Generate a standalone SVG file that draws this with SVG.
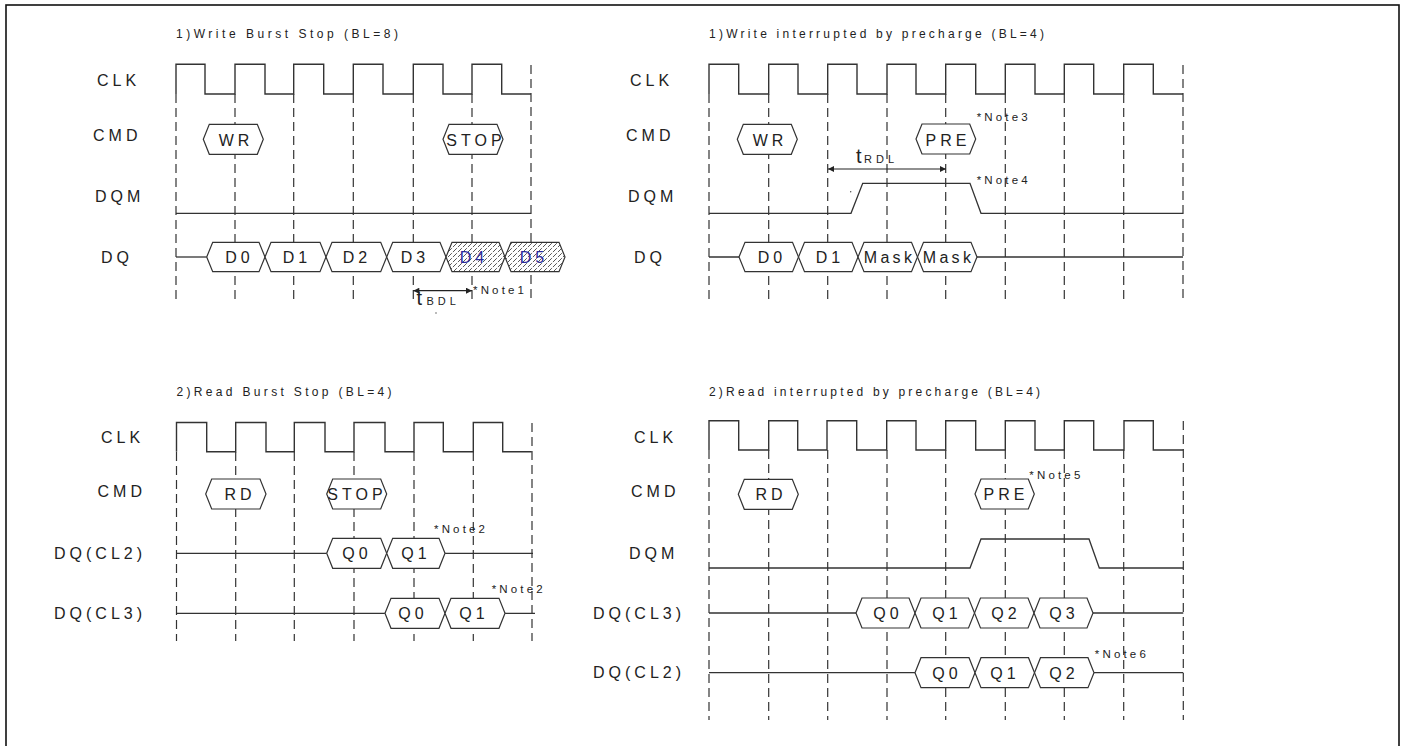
<svg xmlns="http://www.w3.org/2000/svg" width="1406" height="746" viewBox="0 0 1406 746">
<defs>
<style>
.frame{fill:none;stroke:#111;stroke-width:1.6}
.clk{fill:none;stroke:#333;stroke-width:1.4}
.sig{fill:none;stroke:#333;stroke-width:1.3}
.dash{fill:none;stroke:#333;stroke-width:1.2;stroke-dasharray:9 5}
.hex{fill:#fff;stroke:#333;stroke-width:1.2}
.hatch{fill:url(#hatch);stroke:#333;stroke-width:1.2}
.lbl{font-family:"Liberation Sans",Arial,sans-serif;font-size:16px;letter-spacing:4px;fill:#222}
.cell{font-family:"Liberation Sans",Arial,sans-serif;font-size:16px;letter-spacing:4px;fill:#222;text-anchor:middle}
.blue{fill:#2a2a9c}
.title{font-family:"Liberation Sans",Arial,sans-serif;font-size:12px;fill:#222}
.note{font-family:"Liberation Sans",Arial,sans-serif;font-size:11.5px;fill:#222}
.tbig{font-family:"Liberation Sans",Arial,sans-serif;font-size:20px;fill:#222}
.tsub{font-family:"Liberation Sans",Arial,sans-serif;font-size:11px;letter-spacing:4px;fill:#222}
.arr{fill:none;stroke:#222;stroke-width:1.2;marker-start:url(#ah);marker-end:url(#ah)}
</style>
<pattern id="hatch" patternUnits="userSpaceOnUse" width="5" height="5">
<rect width="5" height="5" fill="#fff"/>
<path d="M-1,6 L6,-1" stroke="#444" stroke-width="0.9" stroke-dasharray="4 1.5"/>
</pattern>
<marker id="ah" viewBox="0 0 10 10" refX="10" refY="5" markerWidth="7" markerHeight="6" orient="auto-start-reverse" markerUnits="userSpaceOnUse">
<path d="M0,0 L10,5 L0,10 z" fill="#222"/>
</marker>
</defs>
<rect width="1406" height="746" fill="#fff"/>
<rect class="frame" x="6" y="5" width="1393" height="750"/>

<!-- ========== Panel 1: Write Burst Stop ========== -->
<g id="panel-write-burst-stop">
<text class="title" x="176" y="38" textLength="222" lengthAdjust="spacing">1)Write Burst Stop (BL=8)</text>
<g id="wbs-labels">
<text class="lbl" x="97" y="86">CLK</text>
<text class="lbl" x="93" y="140.5">CMD</text>
<text class="lbl" x="95" y="202">DQM</text>
<text class="lbl" x="101" y="263">DQ</text>
</g>
<g id="wbs-guides">
<path class="dash" d="M176,94V303 M235,94V303 M293.7,94V303 M353.3,94V303 M413.3,94V303 M472,94V303 M531,65V303"/>
</g>
<path id="wbs-clk" class="clk" d="M176,94 V64.3 H205 V94 H235 V64.3 H265 V94 H293.7 V64.3 H323.7 V94 H353.3 V64.3 H383 V94 H413.3 V64.3 H443 V94 H472 V64.3 H501.7 V94 H531"/>
<g id="wbs-cmd-wr"><polygon class="hex" points="203.3,139.3 209.3,124.3 257.3,124.3 263.3,139.3 257.3,154.3 209.3,154.3"/><text class="cell" x="236" y="146">WR</text></g>
<g id="wbs-cmd-stop"><polygon class="hex" points="443,139.3 449,124.3 497,124.3 503,139.3 497,154.3 449,154.3"/><text class="cell" x="476" y="146">STOP</text></g>
<path id="wbs-dqm" class="sig" d="M176,213.3 H531"/>
<path id="wbs-dq-line" class="sig" d="M176,257 H206.7"/>
<g id="wbs-d0"><polygon class="hex" points="206.7,257 212.7,242.3 259,242.3 265,257 259,271.7 212.7,271.7"/><text class="cell" x="239.5" y="263.3">D0</text></g>
<g id="wbs-d1"><polygon class="hex" points="265,257 271,242.3 320,242.3 326,257 320,271.7 271,271.7"/><text class="cell" x="297" y="263.3">D1</text></g>
<g id="wbs-d2"><polygon class="hex" points="326,257 332,242.3 380.7,242.3 386.7,257 380.7,271.7 332,271.7"/><text class="cell" x="357" y="263.3">D2</text></g>
<g id="wbs-d3"><polygon class="hex" points="386.7,257 392.7,242.3 440,242.3 446,257 440,271.7 392.7,271.7"/><text class="cell" x="415" y="263.3">D3</text></g>
<g id="wbs-d4"><polygon class="hatch" points="446,257 452,242.3 499,242.3 505,257 499,271.7 452,271.7"/><text class="cell blue" x="474" y="263.3">D4</text></g>
<g id="wbs-d5"><polygon class="hatch" points="505,257 511,242.3 559,242.3 565,257 559,271.7 511,271.7"/><text class="cell blue" x="534" y="263.3">D5</text></g>
<g id="wbs-tbdl">
<text class="tbig" x="416.5" y="305">t</text><text class="tsub" x="426.5" y="304.5">BDL</text>
<circle cx="436" cy="313" r="0.7" fill="#444"/>
</g>
<text id="wbs-note1" class="note" x="473" y="294.3" textLength="51" lengthAdjust="spacing">*Note1</text>
</g>

<!-- ========== Panel 2: Write interrupted by precharge ========== -->
<g id="panel-write-precharge">
<text class="title" x="709" y="38" textLength="335" lengthAdjust="spacing">1)Write interrupted by precharge (BL=4)</text>
<g id="wip-labels">
<text class="lbl" x="630" y="86">CLK</text>
<text class="lbl" x="626" y="140.5">CMD</text>
<text class="lbl" x="628" y="202">DQM</text>
<text class="lbl" x="634" y="263">DQ</text>
</g>
<g id="wip-guides">
<path class="dash" d="M709,94V303 M768.7,94V303 M827.7,94V303 M887,94V303 M945.7,94V303 M1005.3,94V303 M1064.3,94V303 M1123.7,94V303 M1183,65V303"/>
</g>
<path id="wip-clk" class="clk" d="M709,94 V64.3 H738.7 V94 H768.7 V64.3 H798 V94 H827.7 V64.3 H857 V94 H887 V64.3 H916 V94 H945.7 V64.3 H975.7 V94 H1005.3 V64.3 H1035 V94 H1064.3 V64.3 H1093.7 V94 H1123.7 V64.3 H1153.3 V94 H1183"/>
<g id="wip-cmd-wr"><polygon class="hex" points="737.3,139.3 743.3,124.3 791.3,124.3 797.3,139.3 791.3,154.3 743.3,154.3"/><text class="cell" x="770" y="146">WR</text></g>
<g id="wip-cmd-pre"><polygon class="hex" points="916,139 922,124 969.7,124 975.7,139 969.7,154 922,154"/><text class="cell" x="948" y="146">PRE</text></g>
<text id="wip-note3" class="note" x="976.7" y="121" textLength="51" lengthAdjust="spacing">*Note3</text>
<path id="wip-dqm" class="sig" d="M709,213.3 H851 L862.7,183.3 H970 L981,213.3 H1183"/>
<circle cx="850.7" cy="191.7" r="0.7" fill="#444"/>
<text id="wip-note4" class="note" x="976.7" y="184.3" textLength="51" lengthAdjust="spacing">*Note4</text>
<g id="wip-trdl"><text class="tbig" x="856" y="163.3">t</text><text class="tsub" x="864" y="163">RDL</text></g>
<path id="wip-dq-line" class="sig" d="M709,257 H739 M977,257 H1183"/>
<g id="wip-d0"><polygon class="hex" points="739,257 745,242.3 792.5,242.3 798.5,257 792.5,271.7 745,271.7"/><text class="cell" x="772" y="263.3">D0</text></g>
<g id="wip-d1"><polygon class="hex" points="798.5,257 804.5,242.3 852,242.3 858,257 852,271.7 804.5,271.7"/><text class="cell" x="830" y="263.3">D1</text></g>
<g id="wip-mask1"><polygon class="hex" points="858,257 864,242.3 911.5,242.3 917.5,257 911.5,271.7 864,271.7"/><text class="cell" x="889.5" y="263.3" style="letter-spacing:3.3px">Mask</text></g>
<g id="wip-mask2"><polygon class="hex" points="917.5,257 923.5,242.3 971,242.3 977,257 971,271.7 923.5,271.7"/><text class="cell" x="948.5" y="263.3" style="letter-spacing:3.3px">Mask</text></g>
</g>

<!-- ========== Panel 3: Read Burst Stop ========== -->
<g id="panel-read-burst-stop">
<text class="title" x="176.5" y="396" textLength="215" lengthAdjust="spacing">2)Read Burst Stop (BL=4)</text>
<g id="rbs-labels">
<text class="lbl" x="101" y="443.3">CLK</text>
<text class="lbl" x="97.5" y="496.7">CMD</text>
<text class="lbl" x="54" y="559">DQ(CL2)</text>
<text class="lbl" x="54" y="619">DQ(CL3)</text>
</g>
<g id="rbs-guides">
<path class="dash" d="M176.5,452V641 M235.7,452V641 M294.3,452V641 M354,452V641 M414,452V641 M473.3,452V641 M532,423V641"/>
</g>
<path id="rbs-clk" class="clk" d="M176.5,451.7 V422.5 H206.7 V451.7 H235.7 V422.5 H266 V451.7 H294.3 V422.5 H325 V451.7 H354 V422.5 H385 V451.7 H414 V422.5 H443.3 V451.7 H473.3 V422.5 H502.7 V451.7 H531.7"/>
<g id="rbs-cmd-rd"><polygon class="hex" points="205.7,494 211.7,479 260,479 266,494 260,509 211.7,509"/><text class="cell" x="240" y="500">RD</text></g>
<g id="rbs-cmd-stop"><polygon class="hex" points="326.7,494 332.7,479 380.7,479 386.7,494 380.7,509 332.7,509"/><text class="cell" x="357" y="500">STOP</text></g>
<path id="rbs-cl2-line" class="sig" d="M176.5,553.3 H326.7 M445,553.3 H533"/>
<g id="rbs-cl2-q0"><polygon class="hex" points="326.7,553.3 332.7,538.3 380.7,538.3 386.7,553.3 380.7,568.3 332.7,568.3"/><text class="cell" x="357" y="559.3">Q0</text></g>
<g id="rbs-cl2-q1"><polygon class="hex" points="386.7,553.3 392.7,538.3 439,538.3 445,553.3 439,568.3 392.7,568.3"/><text class="cell" x="416" y="559.3">Q1</text></g>
<text id="rbs-note2a" class="note" x="434" y="532.7" textLength="51" lengthAdjust="spacing">*Note2</text>
<path id="rbs-cl3-line" class="sig" d="M176.5,613.3 H385 M505,613.3 H535"/>
<g id="rbs-cl3-q0"><polygon class="hex" points="385,613.3 391,598.3 439,598.3 445,613.3 439,628.3 391,628.3"/><text class="cell" x="413" y="619.3">Q0</text></g>
<g id="rbs-cl3-q1"><polygon class="hex" points="445,613.3 451,598.3 499,598.3 505,613.3 499,628.3 451,628.3"/><text class="cell" x="474" y="619.3">Q1</text></g>
<text id="rbs-note2b" class="note" x="491.7" y="593.3" textLength="51" lengthAdjust="spacing">*Note2</text>
</g>

<!-- ========== Panel 4: Read interrupted by precharge ========== -->
<g id="panel-read-precharge">
<text class="title" x="709" y="396" textLength="331" lengthAdjust="spacing">2)Read interrupted by precharge (BL=4)</text>
<g id="rip-labels">
<text class="lbl" x="634" y="443">CLK</text>
<text class="lbl" x="631" y="497">CMD</text>
<text class="lbl" x="629" y="559">DQM</text>
<text class="lbl" x="593" y="619">DQ(CL3)</text>
<text class="lbl" x="593" y="678">DQ(CL2)</text>
</g>
<g id="rip-guides">
<path class="dash" d="M709,450V720 M768.7,450V720 M827.7,450V720 M887,450V720 M945.7,450V720 M1005.3,450V720 M1064.3,450V720 M1123.7,450V720 M1183.3,421V720"/>
</g>
<path id="rip-clk" class="clk" d="M709,450 V420.7 H738.7 V450 H768.7 V420.7 H797.7 V450 H827 V420.7 H856.7 V450 H886.7 V420.7 H916 V450 H945.7 V420.7 H975.7 V450 H1005.3 V420.7 H1035 V450 H1064.3 V420.7 H1093.7 V450 H1124 V420.7 H1153.3 V450 H1183.3"/>
<g id="rip-cmd-rd"><polygon class="hex" points="738.3,494.3 744.3,479.3 792.3,479.3 798.3,494.3 792.3,509.3 744.3,509.3"/><text class="cell" x="771" y="500.3">RD</text></g>
<g id="rip-cmd-pre"><polygon class="hex" points="975,494 981,479 1028.3,479 1034.3,494 1028.3,509 981,509"/><text class="cell" x="1006" y="500">PRE</text></g>
<text id="rip-note5" class="note" x="1029.3" y="479" textLength="51" lengthAdjust="spacing">*Note5</text>
<path id="rip-dqm" class="sig" d="M709,568 H970 L981,539 H1089 L1099.3,568 H1183.3"/>
<path id="rip-cl3-line" class="sig" d="M709,613 H856 M1093,613 H1183.3"/>
<g id="rip-cl3-q0"><polygon class="hex" points="856,613 862,598 909,598 915,613 909,628 862,628"/><text class="cell" x="888" y="619">Q0</text></g>
<g id="rip-cl3-q1"><polygon class="hex" points="915,613 921,598 968.5,598 974.5,613 968.5,628 921,628"/><text class="cell" x="947" y="619">Q1</text></g>
<g id="rip-cl3-q2"><polygon class="hex" points="974.5,613 980.5,598 1028,598 1034,613 1028,628 980.5,628"/><text class="cell" x="1006" y="619">Q2</text></g>
<g id="rip-cl3-q3"><polygon class="hex" points="1034,613 1040,598 1087,598 1093,613 1087,628 1040,628"/><text class="cell" x="1064" y="619">Q3</text></g>
<path id="rip-cl2-line" class="sig" d="M709,672.7 H915 M1094,672.7 H1183.3"/>
<g id="rip-cl2-q0"><polygon class="hex" points="915,672.7 921,657.7 969,657.7 975,672.7 969,687.7 921,687.7"/><text class="cell" x="947" y="678.7">Q0</text></g>
<g id="rip-cl2-q1"><polygon class="hex" points="975,672.7 981,657.7 1028.5,657.7 1034.5,672.7 1028.5,687.7 981,687.7"/><text class="cell" x="1005" y="678.7">Q1</text></g>
<g id="rip-cl2-q2"><polygon class="hex" points="1034.5,672.7 1040.5,657.7 1088,657.7 1094,672.7 1088,687.7 1040.5,687.7"/><text class="cell" x="1064" y="678.7">Q2</text></g>
<text id="rip-note6" class="note" x="1094.8" y="658" textLength="51" lengthAdjust="spacing">*Note6</text>
</g>

<!-- ========== Connectors (timing arrows) ========== -->
<g id="connectors">
<path id="arrow-tbdl" class="arr" d="M413.3,290.7 H472"/>
<path id="arrow-trdl" class="arr" d="M828,169 H946"/>
</g>
</svg>
